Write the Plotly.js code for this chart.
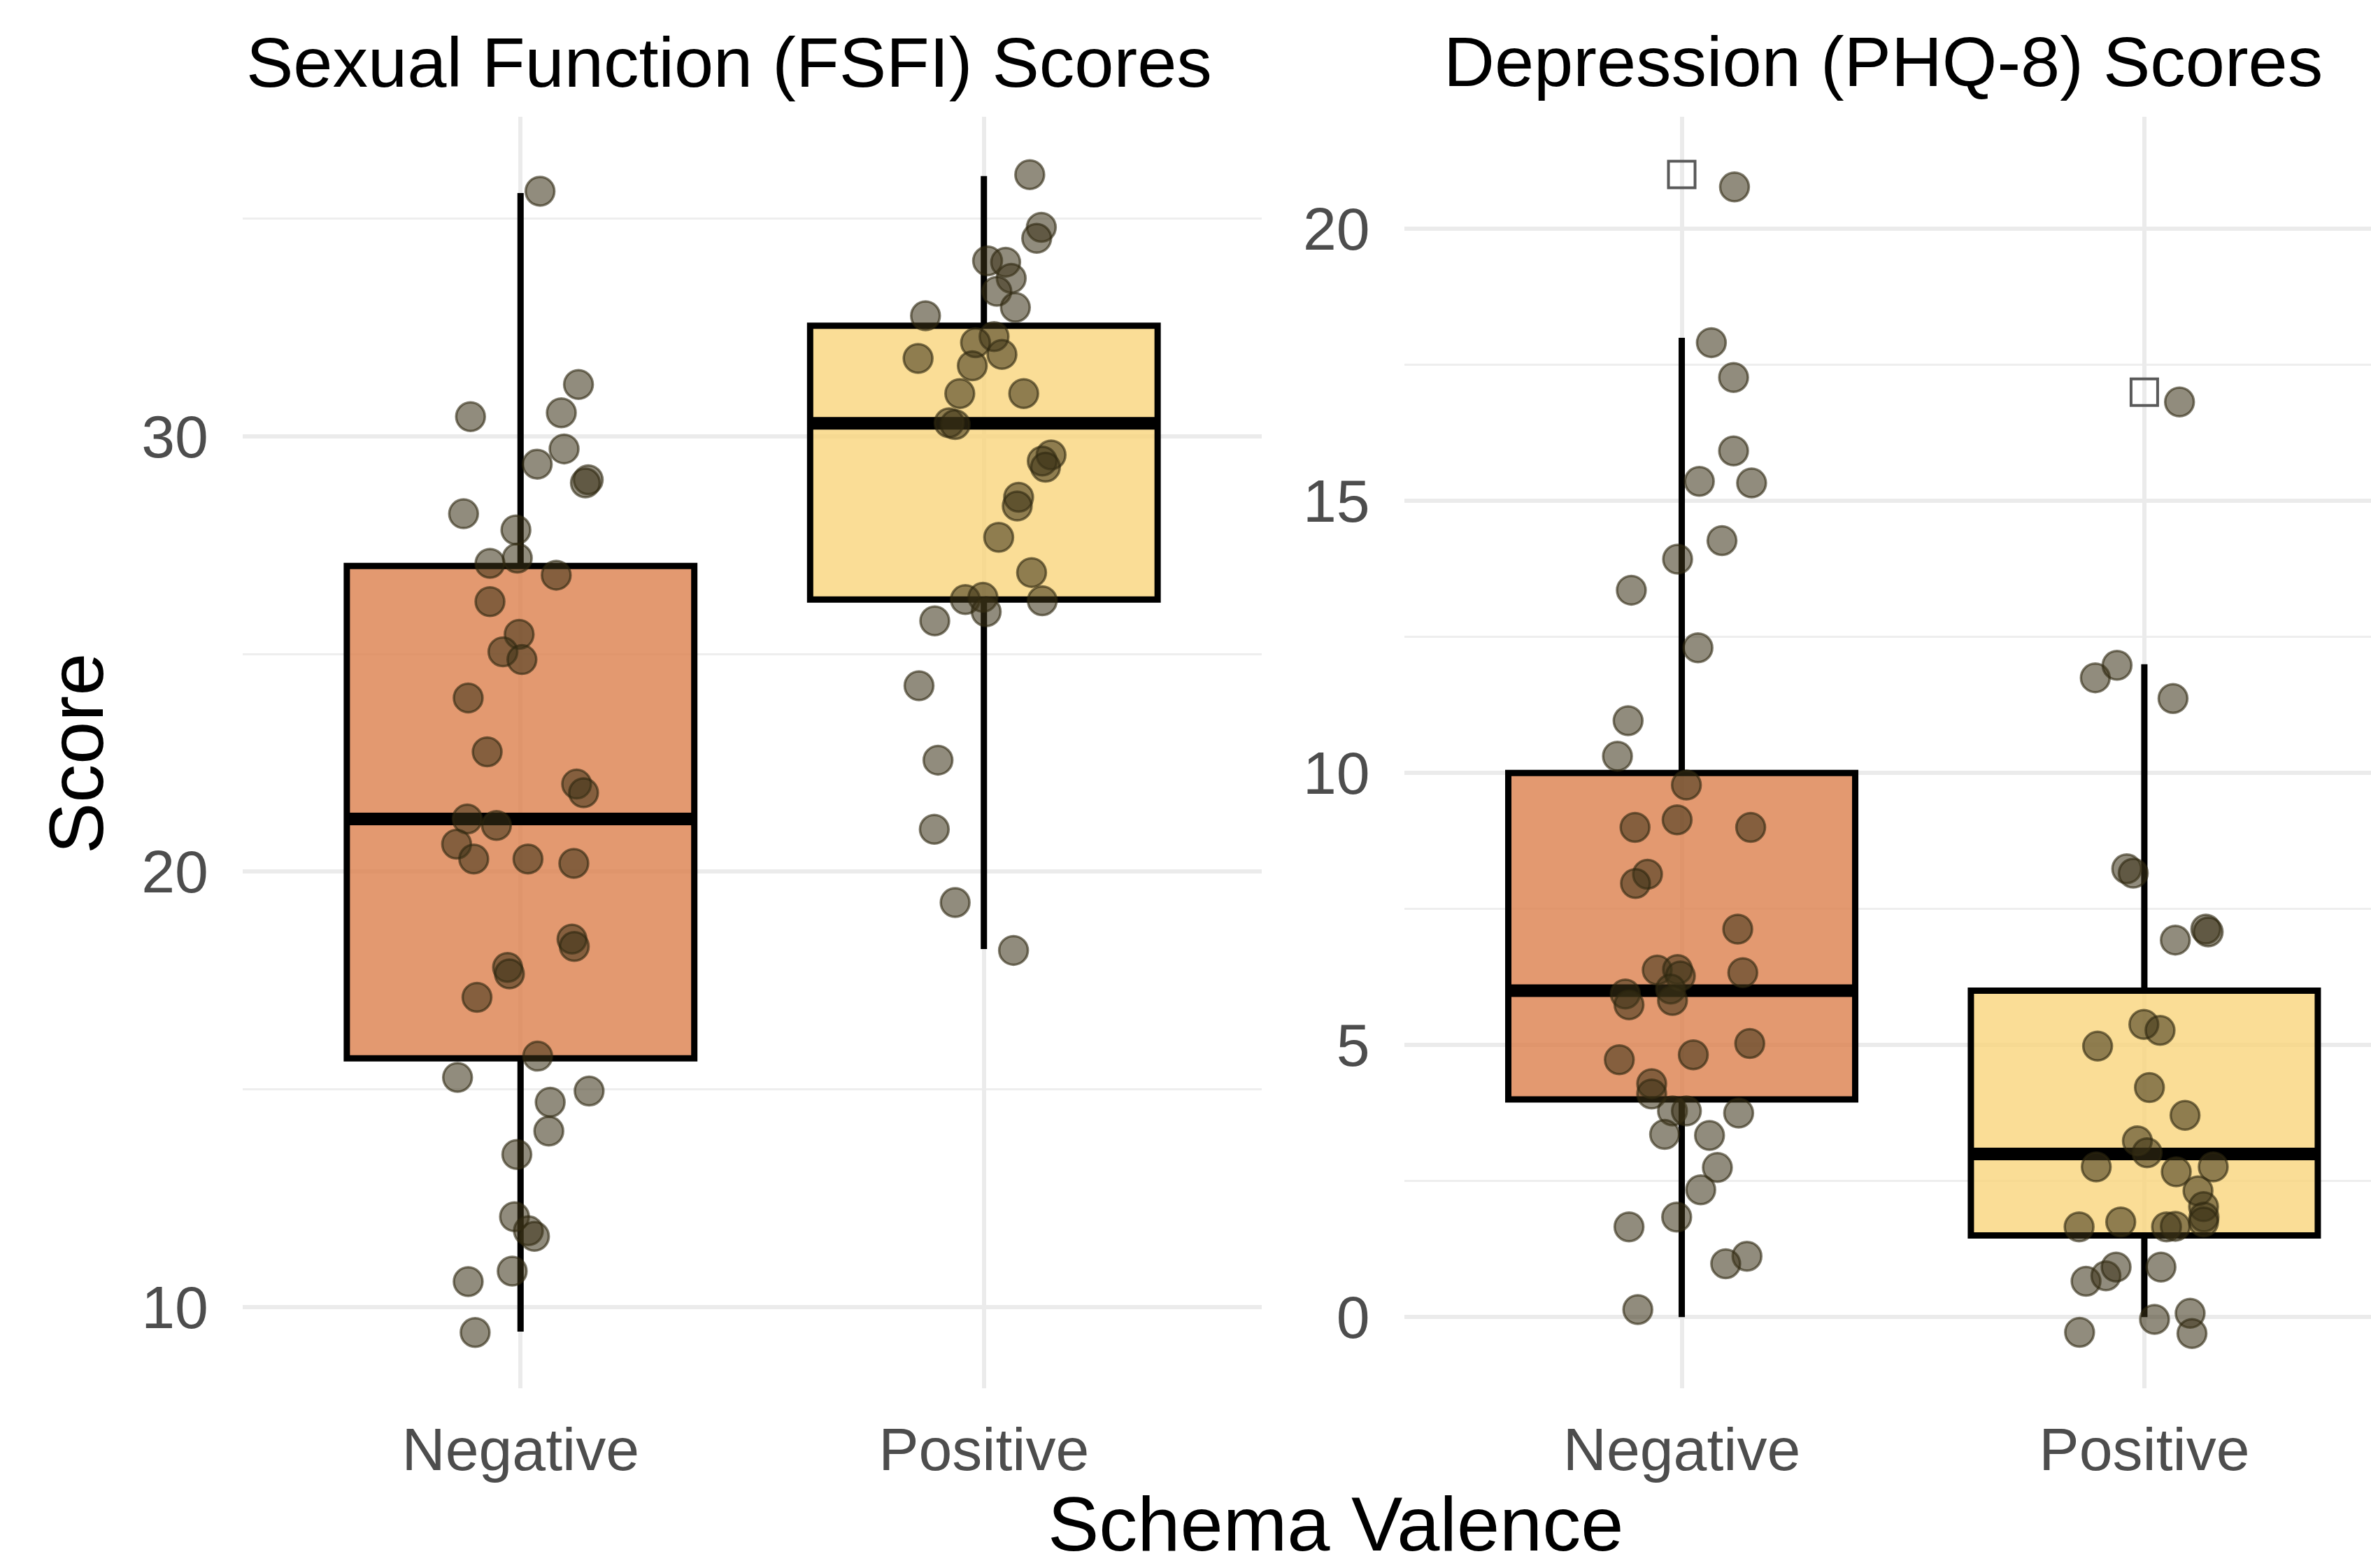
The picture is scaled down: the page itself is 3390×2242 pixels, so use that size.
<!DOCTYPE html>
<html>
<head>
<meta charset="utf-8">
<script src="https://cdn.plot.ly/plotly-3.0.1.min.js"></script>
<style>html,body{margin:0;padding:0;background:#fff;}</style>
</head>
<body>
<div id="chart" style="width:3390px;height:2242px;"></div>
<script>
// ---------- DATA ----------
const categories = ['Negative', 'Positive'];
const panelTitles = ['Sexual Function (FSFI) Scores', 'Depression (PHQ-8) Scores'];
const xAxisTitle = 'Schema Valence';
const yAxisTitle = 'Score';

// Box statistics [Negative, Positive]
const fsfiQ1 = [15.71, 26.25];
const fsfiMedian = [21.21, 30.30];
const fsfiQ3 = [27.02, 32.54];
const fsfiLowerWhisker = [9.43, 18.22];
const fsfiUpperWhisker = [35.59, 35.98];

const phqQ1 = [4, 1.5];
const phqMedian = [6, 3];
const phqQ3 = [10, 6];
const phqLowerWhisker = [0, 0];
const phqUpperWhisker = [18, 12];
const phqOutliers = [21, 17];

const fsfiNegValues = [35.63,31.19,30.45,30.54,29.71,29.36,29.00,28.93,28.22,27.85,27.20,27.08,26.81,26.20,25.45,25.05,24.87,23.99,22.75,22.01,21.81,21.21,21.06,20.63,20.29,20.29,20.19,18.45,18.28,17.80,17.65,17.11,15.76,15.27,14.96,14.70,14.04,13.50,12.07,11.75,11.62,10.82,10.58,9.41];
const fsfiNegJitter = [0.042,0.125,-0.108,0.088,0.094,0.036,0.146,0.140,-0.123,-0.010,-0.007,-0.066,0.077,-0.066,-0.003,-0.038,0.003,-0.113,-0.072,0.121,0.136,-0.115,-0.052,-0.138,-0.101,0.016,0.115,0.111,0.116,-0.028,-0.024,-0.094,0.037,-0.136,0.148,0.064,0.061,-0.008,-0.013,0.017,0.030,-0.018,-0.113,-0.098];

const fsfiPosValues = [36.01,34.80,34.55,34.03,34.00,33.63,33.33,32.96,32.77,32.29,32.15,31.88,31.79,31.62,30.98,30.98,30.31,30.27,29.57,29.43,29.29,28.60,28.40,27.68,26.87,26.25,26.30,25.97,26.22,25.76,24.27,22.56,20.97,19.29,18.19];
const fsfiPosJitter = [0.099,0.124,0.114,0.008,0.047,0.059,0.028,0.068,-0.126,0.022,-0.018,0.039,-0.142,-0.025,-0.052,0.086,-0.075,-0.062,0.145,0.126,0.133,0.075,0.072,0.032,0.103,-0.040,-0.002,0.005,0.126,-0.106,-0.140,-0.099,-0.107,-0.062,0.064];

const phqNegValues = [20.77,17.91,17.27,15.92,15.36,15.33,14.27,13.93,13.36,12.30,10.96,10.31,9.78,9.00,9.14,9.00,8.14,7.97,7.13,6.38,6.39,6.27,6.33,5.94,5.74,6.03,5.82,5.03,4.82,4.73,4.29,4.10,3.79,3.79,3.75,3.36,3.34,2.75,2.34,1.84,1.66,1.12,0.98,0.14];
const phqNegJitter = [0.114,0.064,0.112,0.112,0.038,0.151,0.087,-0.009,-0.109,0.035,-0.116,-0.139,0.010,-0.101,-0.010,0.149,-0.074,-0.100,0.121,-0.053,-0.009,-0.003,0.132,-0.122,-0.114,-0.024,-0.020,0.147,0.025,-0.135,-0.065,-0.065,-0.020,0.010,0.123,-0.037,0.060,0.077,0.041,-0.011,-0.114,0.141,0.095,-0.095];

const phqPosValues = [16.82,11.75,11.98,11.37,8.24,8.16,6.93,7.13,7.08,5.38,5.27,4.98,4.22,3.71,3.24,3.02,2.76,2.67,2.76,2.32,2.03,1.84,1.75,1.66,1.75,1.66,1.67,0.66,0.76,0.92,0.92,-0.04,0.07,-0.30,-0.28];
const phqPosJitter = [0.076,-0.106,-0.059,0.062,-0.038,-0.024,0.067,0.133,0.138,-0.001,0.034,-0.101,0.011,0.088,-0.015,0.006,-0.104,0.069,0.149,0.116,0.128,0.129,0.128,-0.141,-0.051,0.048,0.067,-0.126,-0.083,-0.061,0.036,0.022,0.099,0.103,-0.140];

// ---------- STYLE ----------
const FONT = 'Liberation Sans, Arial, Helvetica, sans-serif';
const boxFill = ['rgba(220,128,76,0.8)', 'rgba(249,212,124,0.8)'];
const boxWidth = 0.75;
const pointFill = 'rgba(58,50,24,0.56)';
const pointLine = 'rgba(45,38,15,0.6)';
const W = 3390, H = 2242;
const plotTop = 167, plotBottom = 1985;

const traces = [];
const catPos = categories.map((c, i) => i + 1);

function addPanel(xa, ya, q1, med, q3, lo, hi, groups, outliers) {
  catPos.forEach((p, i) => {
    traces.push({
      type: 'box', xaxis: xa, yaxis: ya,
      x: [p], q1: [q1[i]], median: [med[i]], q3: [q3[i]],
      lowerfence: [lo[i]], upperfence: [hi[i]],
      width: boxWidth, whiskerwidth: 0, boxpoints: false,
      fillcolor: boxFill[i], line: {color: '#000000', width: 9},
      hoverinfo: 'skip', showlegend: false
    });
  });
  catPos.forEach((p, i) => {
    traces.push({
      type: 'scatter', mode: 'lines', xaxis: xa, yaxis: ya,
      x: [p - boxWidth / 2, p + boxWidth / 2], y: [med[i], med[i]],
      line: {color: '#000000', width: 18}, hoverinfo: 'skip', showlegend: false
    });
  });
  if (outliers) {
    traces.push({
      type: 'scatter', mode: 'markers', xaxis: xa, yaxis: ya,
      x: catPos, y: outliers,
      marker: {symbol: 'square-open', size: 38, color: '#5a5a5a', line: {width: 4, color: '#5a5a5a'}},
      hoverinfo: 'skip', showlegend: false
    });
  }
  groups.forEach((g, i) => {
    traces.push({
      type: 'scatter', mode: 'markers', xaxis: xa, yaxis: ya,
      x: g.jit.map(j => catPos[i] + j), y: g.vals,
      marker: {size: 41, color: pointFill, line: {color: pointLine, width: 3.5}},
      hoverinfo: 'skip', showlegend: false
    });
  });
}

addPanel('x', 'y', fsfiQ1, fsfiMedian, fsfiQ3, fsfiLowerWhisker, fsfiUpperWhisker,
  [{vals: fsfiNegValues, jit: fsfiNegJitter}, {vals: fsfiPosValues, jit: fsfiPosJitter}], null);
addPanel('x2', 'y2', phqQ1, phqMedian, phqQ3, phqLowerWhisker, phqUpperWhisker,
  [{vals: phqNegValues, jit: phqNegJitter}, {vals: phqPosValues, jit: phqPosJitter}], phqOutliers);

const gridMajor = '#EBEBEB';
const tickFont = {family: FONT, size: 86, color: '#4D4D4D'};

function xAxis(domain, range, anchor) {
  return {
    domain: domain, range: range, anchor: anchor,
    tickmode: 'array', tickvals: catPos, ticktext: categories,
    showgrid: true, gridcolor: gridMajor, gridwidth: 6,
    zeroline: false, showline: false, ticks: '',
    tickfont: tickFont, ticklabelstandoff: 30, fixedrange: true
  };
}
function yAxis(range, major, minor, anchor) {
  return {
    domain: [0, 1], range: range, anchor: anchor,
    tickmode: 'array', tickvals: major, ticktext: major.map(String),
    showgrid: true, gridcolor: gridMajor, gridwidth: 6,
    minor: {tickmode: 'array', tickvals: minor, showgrid: true, gridcolor: '#EEEEEE', gridwidth: 3, ticks: ''},
    zeroline: false, showline: false, ticks: '',
    tickfont: tickFont, ticklabelstandoff: 48, fixedrange: true
  };
}

const px = v => v / W;
const py = v => (plotBottom - v) / (plotBottom - plotTop);

const layout = {
  width: W, height: H,
  margin: {l: 0, r: 0, t: plotTop, b: H - plotBottom, pad: 0},
  paper_bgcolor: '#ffffff', plot_bgcolor: '#ffffff',
  showlegend: false, hovermode: false,
  font: {family: FONT},
  xaxis: xAxis([px(346.8), px(1804.2)], [0.4, 2.6], 'y'),
  yaxis: yAxis([8.13, 37.34], [10, 20, 30], [15, 25, 35], 'x'),
  xaxis2: xAxis([px(2007.7), 1], [0.4, 2.490], 'y2'),
  yaxis2: yAxis([-1.307, 22.06], [0, 5, 10, 15, 20], [2.5, 7.5, 12.5, 17.5], 'x2'),
  annotations: [
    {text: panelTitles[0], xref: 'paper', yref: 'paper', x: px(1042), y: py(89), xanchor: 'center', yanchor: 'middle', showarrow: false, font: {family: FONT, size: 101, color: '#000000'}},
    {text: panelTitles[1], xref: 'paper', yref: 'paper', x: px(2692), y: py(88), xanchor: 'center', yanchor: 'middle', showarrow: false, font: {family: FONT, size: 101, color: '#000000'}},
    {text: xAxisTitle, xref: 'paper', yref: 'paper', x: px(1910), y: py(2178), xanchor: 'center', yanchor: 'middle', showarrow: false, font: {family: FONT, size: 110, color: '#000000'}},
    {text: yAxisTitle, xref: 'paper', yref: 'paper', x: px(108), y: py(1078), xanchor: 'center', yanchor: 'middle', textangle: -90, showarrow: false, font: {family: FONT, size: 110, color: '#000000'}}
  ]
};

Plotly.newPlot('chart', traces, layout, {staticPlot: true, displayModeBar: false});
</script>
</body>
</html>
